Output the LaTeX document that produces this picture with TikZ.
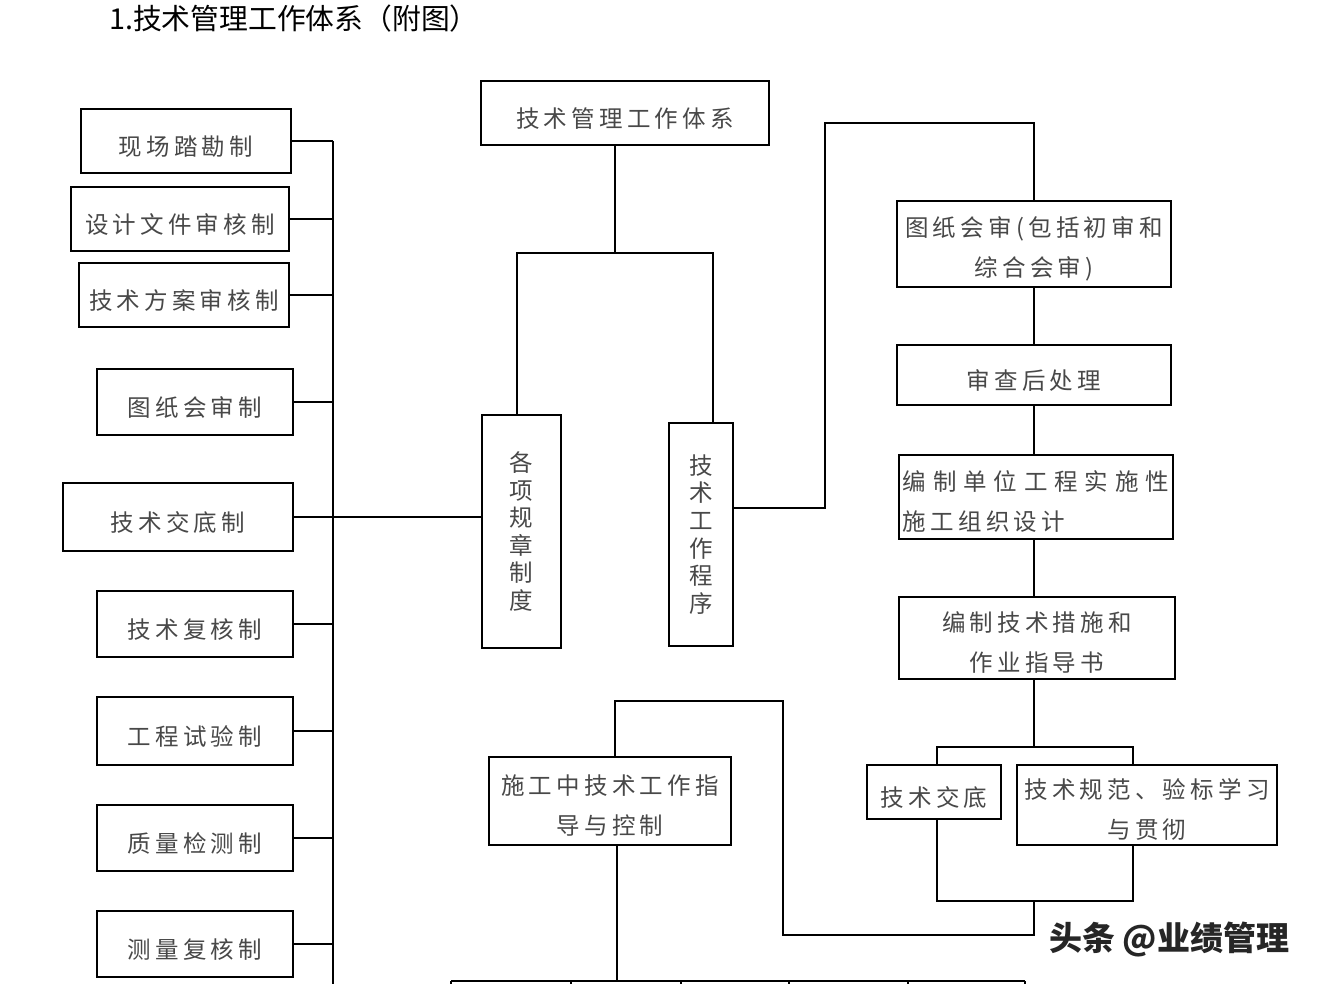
\documentclass[tikz,border=0pt]{standalone}
\usepackage{fontspec}
\newfontfamily\cjk[LetterSpace=18]{Noto Sans CJK SC}
\newfontfamily\cjkw[LetterSpace=29]{Noto Sans CJK SC}
\newfontfamily\cjkt{Noto Sans CJK SC}
\usetikzlibrary{calc}
\definecolor{txt}{HTML}{484848}
\newcommand\twoc[1]{\raisebox{0pt}[\dimexpr\height+5pt\relax][\dimexpr\depth-5pt\relax]{\begin{tabular}{@{}c@{}}#1\end{tabular}}}
\newcommand\twol[1]{\raisebox{0pt}[\dimexpr\height+5pt\relax][\dimexpr\depth-5pt\relax]{\begin{tabular}{@{}l@{}}#1\end{tabular}}}
\begin{document}
\begin{tikzpicture}[x=1pt,y=-1pt,
  box/.style={draw=black, line width=1.8pt, inner sep=0pt, text=txt, font=\cjk\fontsize{23.5}{40}\selectfont, align=center},
  sbox/.style={box, execute at begin node={\rule{0pt}{30pt}}},
  vbox/.style={box, font=\cjk\fontsize{23.5}{27.6}\selectfont, execute at begin node={\rule{0pt}{26pt}}},
  link/.style={draw=black, line width=1.8pt}]
\fill[white] (0,0) rectangle (1318,984);
\useasboundingbox (0,0) rectangle (1318,984);

% title
\node[anchor=west, font=\cjkt\fontsize{28.8}{30}\selectfont, inner sep=0pt] (title) at (109,19) {1.技术管理工作体系（附图）};

% top
\node[sbox, minimum width=288, minimum height=64] (top) at (625,113) {技术管理工作体系};

% left column
\node[sbox, minimum width=210, minimum height=64] (L1) at (186,141) {现场踏勘制};
\node[sbox, minimum width=218, minimum height=64] (L2) at (180,219) {设计文件审核制};
\node[sbox, minimum width=210, minimum height=64] (L3) at (184,295) {技术方案审核制};
\node[sbox, minimum width=196, minimum height=66] (L4) at (195,402) {图纸会审制};
\node[sbox, minimum width=230, minimum height=68] (L5) at (178,517) {技术交底制};
\node[sbox, minimum width=196, minimum height=66] (L6) at (195,624) {技术复核制};
\node[sbox, minimum width=196, minimum height=68] (L7) at (195,731) {工程试验制};
\node[sbox, minimum width=196, minimum height=66] (L8) at (195,838) {质量检测制};
\node[sbox, minimum width=196, minimum height=66] (L9) at (195,944) {测量复核制};

% middle
\node[vbox, minimum width=79, minimum height=233] (GX) at (521.5,531.5) {各\\项\\规\\章\\制\\度};
\node[vbox, minimum width=64, minimum height=223] (JC) at (701,534.5) {技\\术\\工\\作\\程\\序};
\node[box, minimum width=242, minimum height=88] (SG) at (610,801) {\twoc{施工中技术工作指\\导与控制}};

% right column
\node[box, minimum width=274, minimum height=86] (TZ) at (1034,244) {\twoc{图纸会审(包括初审和\\综合会审)}};
\node[sbox, minimum width=274, minimum height=60] (SC) at (1034,375) {审查后处理};
\node[box, minimum width=274, minimum height=84] (BZ) at (1036,497) {\twol{{\cjkw 编制单位工程实施性}\\施工组织设计}};
\node[box, minimum width=276, minimum height=82] (BJ) at (1037,638) {\twoc{编制技术措施和\\作业指导书}};
\node[sbox, minimum width=134, minimum height=54] (JD) at (934,792) {技术交底};
\node[box, minimum width=260, minimum height=80] (GF) at (1147,805) {\twoc{技术规范、验标学习\\与贯彻}};

% watermark
\node[anchor=west, font=\cjkt\bfseries\fontsize{33}{36}\selectfont, text=black!85, inner sep=0pt] (wm) at (1049,940) {头条 @业绩管理};

% left spine
\coordinate (spB) at (333,986);
\draw[link] (L1.east -| spB) -- (spB);
\foreach \n in {L1,L2,L3,L4,L5,L6,L7,L8,L9} \draw[link] (\n.east) -- (\n.east -| spB);
\draw[link] (L5.east -| spB) -- (L5.east -| GX.west);

% top tree
\coordinate (b0) at (615,253);
\coordinate (bl) at (517,253);
\coordinate (br) at (713,253);
\draw[link] (top.south -| b0) -- (b0);
\draw[link] (GX.north -| bl) -- (bl) -- (br) -- (JC.north -| br);

% JC to right column
\coordinate (r1) at (825,508);
\coordinate (r2) at (825,123);
\coordinate (r3) at (1034,123);
\draw[link] (JC.east |- r1) -- (r1) -- (r2) -- (r3) -- (TZ.north -| r3);

% right column
\draw[link] (TZ.south -| r3) -- (SC.north -| r3);
\draw[link] (SC.south -| r3) -- (BZ.north -| r3);
\draw[link] (BZ.south -| r3) -- (BJ.north -| r3);
\coordinate (k0) at (1034,747);
\coordinate (kl) at (937,747);
\coordinate (kr) at (1133,747);
\draw[link] (BJ.south -| k0) -- (k0);
\draw[link] (JD.north -| kl) -- (kl) -- (kr) -- (GF.north -| kr);
\coordinate (m0) at (1034,901);
\coordinate (ml) at (937,901);
\coordinate (mr) at (1133,901);
\draw[link] (JD.south -| ml) -- (ml) -- (mr) -- (GF.south -| mr);
\coordinate (n1) at (1034,935);
\coordinate (n2) at (783,935);
\coordinate (n3) at (783,701);
\coordinate (n4) at (615,701);
\draw[link] (m0) -- (n1) -- (n2) -- (n3) -- (n4) -- (SG.north -| n4);

% bottom
\coordinate (s0) at (617,981);
\draw[link] (SG.south -| s0) -- (s0);
\coordinate (t1) at (451,981);
\coordinate (t6) at (1025,981);
\draw[link] (t1) -- (t6);
\foreach \x in {451,571,681,789,908,1025} \draw[link] (\x,981) -- (\x,990);
\end{tikzpicture}
\end{document}
